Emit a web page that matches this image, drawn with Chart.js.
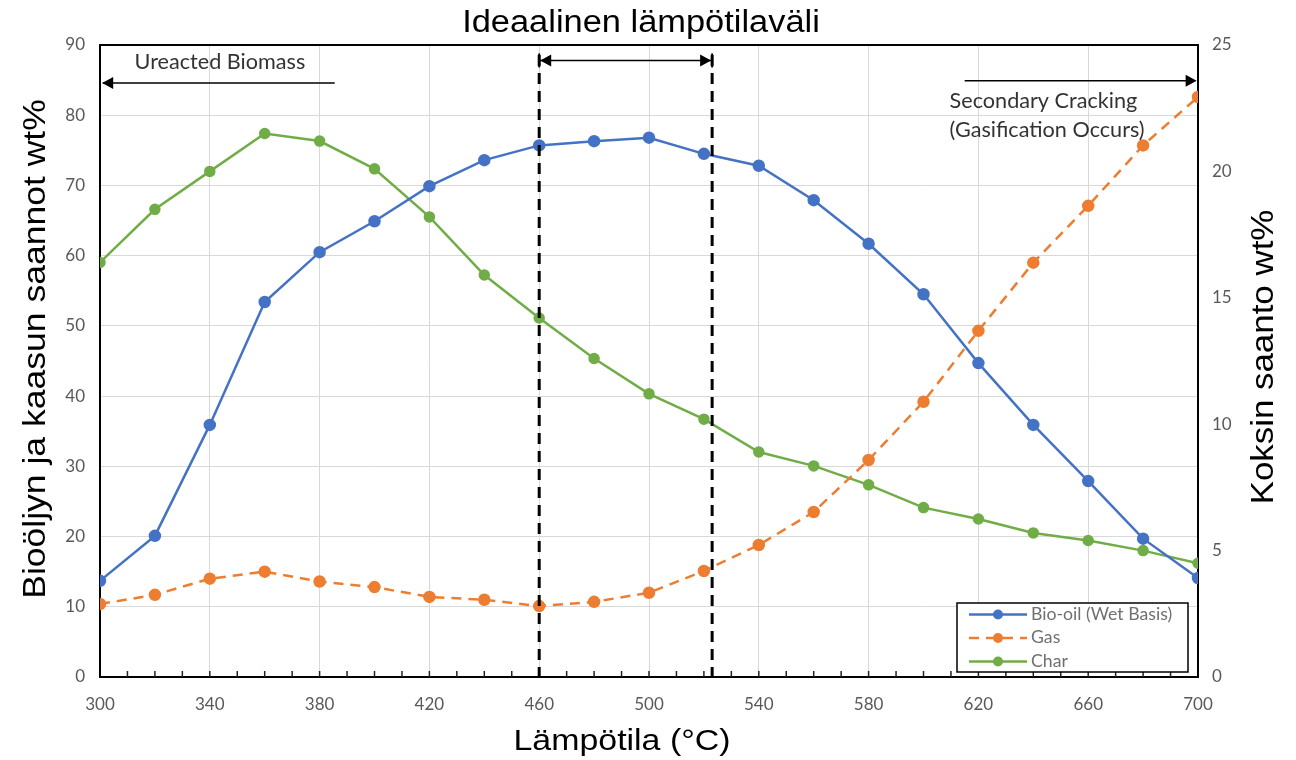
<!DOCTYPE html>
<html>
<head>
<meta charset="utf-8">
<title>Ideaalinen lämpötilaväli</title>
<script src="https://cdn.jsdelivr.net/npm/chart.js@4.4.1/dist/chart.umd.min.js"></script>
<style>
  body { margin: 0; background: #fff; }
  canvas { display: block; }
</style>
</head>
<body>
<canvas id="chart" width="1296" height="760"></canvas>
<script>
// temperatures (°C)
const temps = [300, 320, 340, 360, 380, 400, 420, 440, 460, 480, 500, 520, 540, 560, 580, 600, 620, 640, 660, 680, 700];
// left axis, wt%
const bioOil = [13.7, 20.1, 35.9, 53.4, 60.5, 64.9, 69.9, 73.6, 75.7, 76.3, 76.8, 74.5, 72.8, 67.9, 61.7, 54.5, 44.7, 35.9, 27.9, 19.7, 14.1];
const gas = [10.4, 11.7, 14.0, 15.0, 13.6, 12.8, 11.4, 11.0, 10.1, 10.7, 12.0, 15.1, 18.8, 23.5, 30.9, 39.2, 49.3, 59.0, 67.1, 75.7, 82.6];
// right axis, wt%
const charYield = [16.4, 18.5, 20.0, 21.5, 21.2, 20.1, 18.2, 15.9, 14.2, 12.6, 11.2, 10.2, 8.9, 8.35, 7.6, 6.7, 6.25, 5.7, 5.4, 5.0, 4.5];

const xTicks = [300, 340, 380, 420, 460, 500, 540, 580, 620, 660, 700];
const seriesNames = ['Bio-oil (Wet Basis)', 'Gas', 'Char'];
const idealRange = [460, 523];

const titleText = 'Ideaalinen lämpötilaväli';
const xTitle = 'Lämpötila (°C)';
const yTitle = 'Bioöljyn ja kaasun saannot wt%';
const y2Title = 'Koksin saanto wt%';

const blue = '#4472c4';
const orange = '#ed7d31';
const green = '#70ad47';
const tickFont = { family: 'Lato', size: 17 };
const tickColor = '#595959';

function pts(vals) {
  return temps.map((t, i) => ({ x: t, y: vals[i] }));
}

function arrowHead(ctx, x, y, dir) {
  ctx.beginPath();
  ctx.moveTo(x, y);
  ctx.lineTo(x - dir * 11, y - 6);
  ctx.lineTo(x - dir * 11, y + 6);
  ctx.closePath();
  ctx.fill();
}

// text widened a little, like the original
function wideText(ctx, text, x, y, sx, rot) {
  ctx.save();
  ctx.translate(x, y);
  if (rot) ctx.rotate(rot);
  ctx.scale(sx, 1);
  ctx.fillText(text, 0, 0);
  ctx.restore();
}

const overlay = {
  id: 'overlay',
  afterDatasetsDraw(chart) {
    const ctx = chart.ctx;
    const xs = chart.scales.x;
    const ys = chart.scales.y;
    const area = chart.chartArea;
    ctx.save();

    // frame on top
    ctx.strokeStyle = '#000';
    ctx.lineWidth = 2;
    ctx.beginPath();
    ctx.moveTo(area.left, area.top);
    ctx.lineTo(area.right, area.top);
    ctx.stroke();

    // minor ticks on the x axis
    ctx.lineWidth = 1.5;
    ctx.strokeStyle = '#222';
    for (let v = 310; v < 700; v += 10) {
      const px = xs.getPixelForValue(v);
      ctx.beginPath();
      ctx.moveTo(px, area.bottom);
      ctx.lineTo(px, area.bottom - 6);
      ctx.stroke();
    }

    // ideal range dashed lines
    ctx.strokeStyle = '#000';
    ctx.lineWidth = 3;
    ctx.setLineDash([11, 7]);
    idealRange.forEach(v => {
      const px = xs.getPixelForValue(v);
      ctx.beginPath();
      ctx.moveTo(px, area.top + 10);
      ctx.lineTo(px, area.bottom);
      ctx.stroke();
    });
    ctx.setLineDash([]);

    // double arrow between dashed lines
    ctx.fillStyle = '#000';
    ctx.lineWidth = 1.5;
    const ya = ys.getPixelForValue(87.8);
    const a1 = xs.getPixelForValue(idealRange[0]);
    const a2 = xs.getPixelForValue(idealRange[1]);
    ctx.beginPath();
    ctx.moveTo(a1, ya);
    ctx.lineTo(a2, ya);
    ctx.stroke();
    arrowHead(ctx, a1 + 1, ya, -1);
    arrowHead(ctx, a2 - 1, ya, 1);
    ctx.lineWidth = 2;
    [a1, a2].forEach(px => {
      ctx.beginPath();
      ctx.moveTo(px, ya - 7);
      ctx.lineTo(px, ya + 7);
      ctx.stroke();
    });

    // unreacted biomass arrow
    ctx.lineWidth = 1.5;
    const yb = ys.getPixelForValue(84.6);
    ctx.beginPath();
    ctx.moveTo(xs.getPixelForValue(385.5), yb);
    ctx.lineTo(xs.getPixelForValue(301), yb);
    ctx.stroke();
    arrowHead(ctx, xs.getPixelForValue(300.8), yb, -1);

    // secondary cracking arrow
    const yc = ys.getPixelForValue(84.9);
    ctx.beginPath();
    ctx.moveTo(xs.getPixelForValue(615), yc);
    ctx.lineTo(xs.getPixelForValue(699), yc);
    ctx.stroke();
    arrowHead(ctx, xs.getPixelForValue(699.5), yc, 1);

    ctx.fillStyle = '#333';
    ctx.font = '21px Lato';
    ctx.textBaseline = 'middle';
    ctx.textAlign = 'center';
    wideText(ctx, 'Ureacted Biomass', xs.getPixelForValue(343.7), ys.getPixelForValue(87.5), 1.03);
    ctx.textAlign = 'left';
    wideText(ctx, 'Secondary Cracking', xs.getPixelForValue(609.5), ys.getPixelForValue(82.0), 1.03);
    wideText(ctx, '(Gasification Occurs)', xs.getPixelForValue(609.5), ys.getPixelForValue(77.9), 1.03);

    // legend box
    const lx = 957, ly = 603, lw = 231, lh = 69;
    ctx.fillStyle = '#fff';
    ctx.fillRect(lx, ly, lw, lh);
    ctx.strokeStyle = '#000';
    ctx.lineWidth = 1.5;
    ctx.strokeRect(lx, ly, lw, lh);
    ctx.font = '17px Lato';
    chart.data.datasets.forEach((ds, i) => {
      const ry = ly + 11.5 + i * 23.5;
      ctx.strokeStyle = ds.borderColor;
      ctx.lineWidth = 2.5;
      ctx.setLineDash(ds.borderDash || []);
      ctx.beginPath();
      ctx.moveTo(lx + 12, ry);
      ctx.lineTo(lx + 70, ry);
      ctx.stroke();
      ctx.setLineDash([]);
      ctx.fillStyle = ds.borderColor;
      ctx.beginPath();
      ctx.arc(lx + 41, ry, 5, 0, Math.PI * 2);
      ctx.fill();
      ctx.fillStyle = '#707070';
      wideText(ctx, ds.label, lx + 74, ry, 1.04);
    });

    // titles
    ctx.fillStyle = '#000';
    ctx.textAlign = 'center';
    ctx.font = '31px "Liberation Sans"';
    wideText(ctx, titleText, 641, 23, 1.11);
    ctx.font = '30px "Liberation Sans"';
    wideText(ctx, xTitle, 622, 742, 1.13);
    ctx.font = '32px "Liberation Sans"';
    wideText(ctx, yTitle, 36, 349, 1.11, -Math.PI / 2);
    wideText(ctx, y2Title, 1264, 357, 1.09, -Math.PI / 2);

    ctx.restore();
  }
};

const ctx = document.getElementById('chart').getContext('2d');
new Chart(ctx, {
  type: 'line',
  data: {
    datasets: [
      {
        label: seriesNames[0],
        data: pts(bioOil),
        borderColor: blue,
        backgroundColor: blue,
        borderWidth: 2.5,
        pointRadius: 5,
        yAxisID: 'y',
        tension: 0
      },
      {
        label: seriesNames[1],
        data: pts(gas),
        borderColor: orange,
        backgroundColor: orange,
        borderWidth: 2.5,
        borderDash: [10, 7],
        pointRadius: 5,
        yAxisID: 'y',
        tension: 0
      },
      {
        label: seriesNames[2],
        data: pts(charYield),
        borderColor: green,
        backgroundColor: green,
        borderWidth: 2.5,
        pointRadius: 4.5,
        yAxisID: 'y2',
        tension: 0
      }
    ]
  },
  options: {
    responsive: false,
    animation: false,
    layout: { padding: { top: 45, left: 0, right: 0, bottom: 0 } },
    plugins: {
      legend: { display: false },
      title: { display: false },
      tooltip: { enabled: false }
    },
    scales: {
      x: {
        type: 'linear',
        min: 300,
        max: 700,
        afterFit: s => { s.height = 83; },
        afterBuildTicks: s => { s.ticks = xTicks.map(v => ({ value: v })); },
        ticks: { autoSkip: false, font: tickFont, color: tickColor, padding: 17 },
        grid: { color: '#d9d9d9', drawTicks: false },
        border: { color: '#000', width: 2 }
      },
      y: {
        position: 'left',
        min: 0,
        max: 90,
        afterFit: s => { s.width = 100; },
        ticks: { stepSize: 10, font: tickFont, color: tickColor, padding: 15 },
        grid: { color: '#d9d9d9', drawTicks: false },
        border: { color: '#000', width: 2 }
      },
      y2: {
        position: 'right',
        min: 0,
        max: 25,
        afterFit: s => { s.width = 98; },
        ticks: { stepSize: 5, font: tickFont, color: tickColor, padding: 14 },
        grid: { drawOnChartArea: false, drawTicks: false },
        border: { color: '#000', width: 2 }
      }
    }
  },
  plugins: [overlay]
});
</script>
</body>
</html>
